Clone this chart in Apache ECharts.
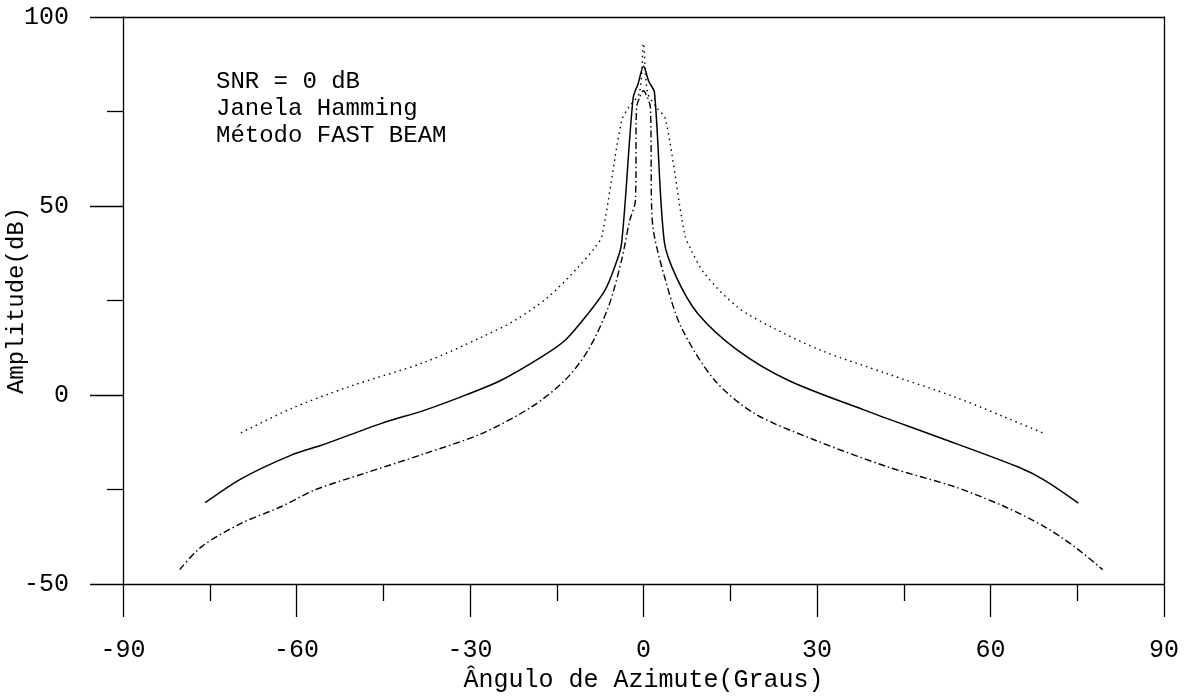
<!DOCTYPE html>
<html>
<head>
<meta charset="utf-8">
<script src="https://cdn.jsdelivr.net/npm/echarts@6/dist/echarts.min.js"></script>
<style>
html,body{margin:0;padding:0;background:#fff;}
#chart{width:1190px;height:699px;}
</style>
</head>
<body>
<div id="chart"></div>
<script>
// Upper curve (dotted)
const dottedAngle = [-69.6,-60.9,-51.1,-37.8,-28.0,-22.3,-16.5,-11.3,-8.4,-7.2,-3.8,-2.6,-0.7,0,0.7,2.3,3.8,7.1,8.2,10.6,16.3,22.1,30.7,42.2,53.8,62.4,69.3];
const dottedAmp   = [-10.0,-3.6,2.1,8.7,15.3,19.7,25.9,33.8,39.0,42.0,72.5,76.0,80.0,93.0,80.0,76.0,73.0,42.6,38.5,32.0,23.2,18.0,11.8,5.6,-0.5,-5.8,-10.2];

// Middle curve (solid)
const solidAngle = [-75.8,-69.5,-60.9,-55.7,-45.3,-37.8,-30.9,-24.6,-17.7,-13.6,-9.6,-6.7,-5.0,-3.8,-1.8,-0.9,0,0.9,1.9,3.6,5.7,9.4,16.3,25.0,38.2,50.9,64.7,69.3,75.2];
const solidAmp   = [-28.5,-22.1,-15.9,-13.3,-7.5,-4.0,-0.1,3.9,10.0,14.4,21.5,27.6,33.8,40.0,78.5,82.5,87.0,83.0,80.0,40.5,31.1,21.5,11.8,3.9,-4.0,-11.1,-19.0,-22.5,-28.6];

// Lower curve (dash-dot)
const dashDotAngle = [-80.2,-76.4,-69.5,-62.6,-56.8,-48.2,-37.8,-28.0,-19.4,-13.6,-9.6,-6.1,-3.8,-2.4,-1.4,-1.2,-0.6,0,0.6,1.2,1.4,1.8,3.65,6.5,12.3,19.2,29.6,42.2,53.8,62.4,69.3,74.5,79.4];
const dashDotAmp   = [-46.2,-40.1,-33.9,-29.5,-25.1,-20.7,-15.5,-10.2,-3.2,3.9,11.8,23.2,35.6,46.1,51.4,76.0,79.0,80.5,79.0,76.0,50.0,42.6,31.2,18.0,3.9,-4.9,-11.9,-19.0,-24.3,-29.5,-34.8,-40.1,-46.2];

const xTicks = [-90,-60,-30,0,30,60,90];
const yTicks = [-50,0,50,100];
const annotations = ['SNR = 0 dB','Janela Hamming','Método FAST BEAM'];
const xName = 'Ângulo de Azimute(Graus)';
const yName = 'Amplitude(dB)';

function zip(a, b){ return a.map((v,i)=>[v,b[i]]); }

const FONT = '"Liberation Mono", "DejaVu Sans Mono", monospace';
const axisLineStyle = {color:'#000', width:1.3};

const chart = echarts.init(document.getElementById('chart'), null, {renderer:'canvas'});
chart.setOption({
  animation:false,
  backgroundColor:'#fff',
  grid:{left:123, right:26, top:17, bottom:115, containLabel:false, outerBoundsMode:'none'},
  xAxis:[{
    type:'value', min:xTicks[0], max:xTicks[xTicks.length-1], interval:30,
    axisLine:{show:true, onZero:false, lineStyle:axisLineStyle},
    axisTick:{show:true, inside:false, length:33, lineStyle:axisLineStyle},
    minorTick:{show:true, splitNumber:2, length:17, lineStyle:axisLineStyle},
    splitLine:{show:false},
    axisLabel:{margin:54, fontSize:25, fontFamily:FONT, color:'#000'},
    name:xName, nameLocation:'middle', nameGap:84, nameMoveOverlap:false,
    nameTextStyle:{fontSize:25, fontFamily:FONT, color:'#000'}
  },{
    type:'value', position:'top', min:-90, max:90, interval:30,
    axisLine:{show:true, onZero:false, lineStyle:axisLineStyle},
    axisTick:{show:false}, axisLabel:{show:false}, splitLine:{show:false}
  }],
  yAxis:[{
    type:'value', min:yTicks[0], max:yTicks[yTicks.length-1], interval:50,
    axisLine:{show:true, onZero:false, lineStyle:axisLineStyle},
    axisTick:{show:true, inside:false, length:33, lineStyle:axisLineStyle},
    minorTick:{show:true, splitNumber:2, length:16, lineStyle:axisLineStyle},
    splitLine:{show:false},
    axisLabel:{margin:54, fontSize:25, fontFamily:FONT, color:'#000'},
    name:yName, nameLocation:'middle', nameGap:94, nameMoveOverlap:false,
    nameTextStyle:{fontSize:24, fontFamily:FONT, color:'#000'}
  },{
    type:'value', position:'right', min:-50, max:100, interval:50,
    axisLine:{show:true, onZero:false, lineStyle:axisLineStyle},
    axisTick:{show:false}, axisLabel:{show:false}, splitLine:{show:false}
  }],
  graphic: annotations.map((t,i)=>({
    type:'text', left:216, top:70 + i*27,
    style:{text:t, font:'24px ' + FONT, fill:'#000'}
  })),
  series:[
    {type:'line', data:zip(dottedAngle, dottedAmp), showSymbol:false, symbol:'none',
     smooth:0.3,
     lineStyle:{color:'#000', width:1.4, type:[1.5,4]}},
    {type:'line', data:zip(solidAngle, solidAmp), showSymbol:false, symbol:'none',
     smooth:0.3,
     lineStyle:{color:'#000', width:1.5, type:'solid'}},
    {type:'line', data:zip(dashDotAngle, dashDotAmp), showSymbol:false, symbol:'none',
     smooth:0.3,
     lineStyle:{color:'#000', width:1.4, type:[7,3,1.5,3]}}
  ]
});
</script>
</body>
</html>
